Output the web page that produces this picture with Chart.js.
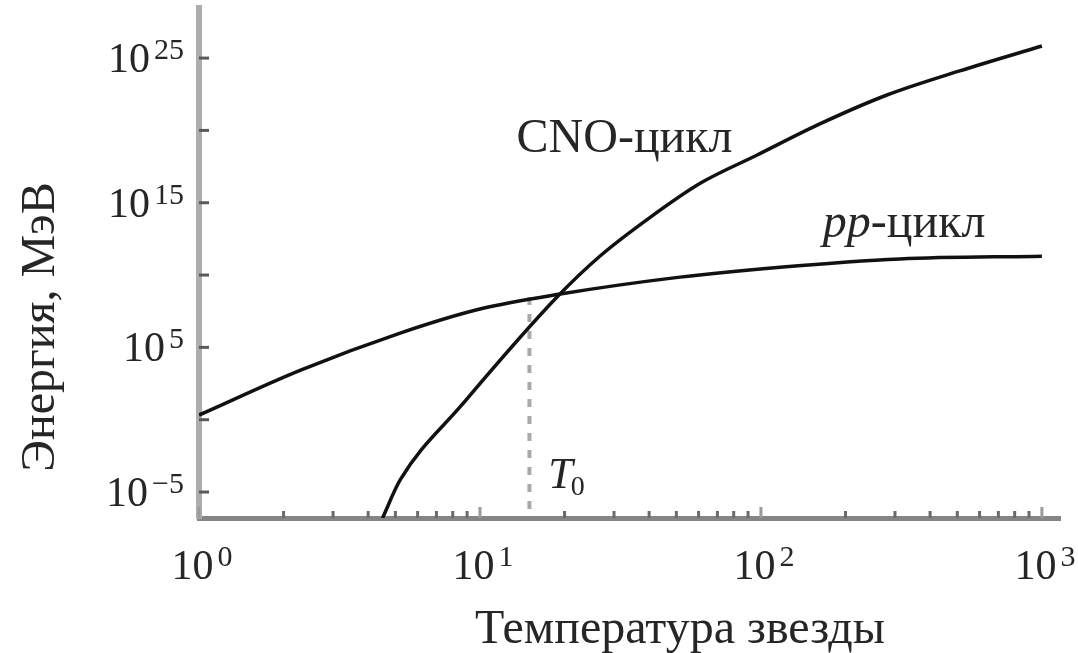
<!DOCTYPE html>
<html lang="ru">
<head>
  <meta charset="UTF-8" />
  <title>pp- и CNO-цикл</title>
  <script src="https://cdn.jsdelivr.net/npm/chart.js"></script>
  <style>
    html, body {
      margin: 0;
      padding: 0;
      background: #fff;
    }
    #wrap {
      width: 1078px;
      height: 653px;
    }
  </style>
</head>
<body>
  <div id="wrap"><canvas id="chart" width="1078" height="653"></canvas></div>

  <script>
    // температура звезды (в млн K) и энергия, МэВ
    const ppT  = [1, 2.3, 5.2, 10, 19.3, 51.5, 117, 312, 1000];
    const ppE  = [2.1, 2.7e3, 9.8e5, 4.5e7, 4.9e8, 7.2e9, 3.5e10, 1.3e11, 2e11];
    const cnoT = [4.5, 5.2, 8.6, 18.8, 26.7, 40, 61, 97, 162, 281, 510, 1000];
    const cnoE = [1.6e-7, 6.8e-5, 10, 3e8, 2e11, 8.7e13, 2.3e16, 2e18, 2.8e20, 2.8e22, 1.3e24, 6.8e25];

    // T0 — температура, при которой циклы сравниваются
    const t0 = 15;
    const t0Top = 3e8;

    const xRange = [1, 1160];
    const yRange = [1.6e-7, 2.9e28];

    const xMajor = [1, 10, 100, 1000];
    const xMajorExp = [0, 1, 2, 3];
    const xMinor = [2, 3, 4, 5, 6, 7, 8, 9, 20, 30, 40, 50, 60, 70, 80, 90,
                    200, 300, 400, 500, 600, 700, 800, 900];
    const yTicks = [1e-5, 1, 1e5, 1e10, 1e15, 1e20, 1e25];
    const yLabelVals = [1e-5, 1e5, 1e15, 1e25];
    const yLabelExp = [-5, 5, 15, 25];

    const SERIF = "'Liberation Serif', 'Times New Roman', serif";
    const INK = '#262626';

    function pts(xs, ys) {
      return xs.map((x, i) => ({ x: x, y: ys[i] }));
    }

    // "10" со степенью; cy — середина цифр основания
    function drawPower(ctx, exp, x, cy, align) {
      const sup = String(exp).replace('-', '\u2212');
      ctx.font = '42px ' + SERIF;
      const bw = ctx.measureText('10').width;
      ctx.font = '30px ' + SERIF;
      const sw = ctx.measureText(sup).width;
      const gap = 4;
      const total = bw + gap + sw;
      const left = align === 'right' ? x - total : x - total / 2;
      ctx.textAlign = 'left';
      ctx.textBaseline = 'alphabetic';
      ctx.font = '42px ' + SERIF;
      ctx.fillText('10', left, cy + 14);
      ctx.font = '30px ' + SERIF;
      ctx.fillText(sup, left + bw + gap, cy + 1);
    }

    const labelsPlugin = {
      id: 'labels',
      afterDraw(chart) {
        const ctx = chart.ctx;
        const xs = chart.scales.x;
        const ys = chart.scales.y;
        const area = chart.chartArea;
        ctx.save();

        // засечки внутрь графика
        ctx.strokeStyle = '#6a6a6a';
        ctx.lineWidth = 3;
        xMinor.forEach(v => {
          const px = xs.getPixelForValue(v);
          ctx.beginPath();
          ctx.moveTo(px, area.bottom);
          ctx.lineTo(px, area.bottom - 7);
          ctx.stroke();
        });
        ctx.strokeStyle = '#9a9a9a';
        xMajor.forEach(v => {
          const px = xs.getPixelForValue(v);
          ctx.beginPath();
          ctx.moveTo(px, area.bottom);
          ctx.lineTo(px, area.bottom - 11);
          ctx.stroke();
        });
        ctx.strokeStyle = '#5a5a5a';
        yTicks.forEach(v => {
          const py = ys.getPixelForValue(v);
          ctx.beginPath();
          ctx.moveTo(area.left, py);
          ctx.lineTo(area.left + 10, py);
          ctx.stroke();
        });

        // подписи делений
        ctx.fillStyle = INK;
        xMajor.forEach((v, i) => {
          drawPower(ctx, xMajorExp[i], xs.getPixelForValue(v) + 3, 565, 'center');
        });
        yLabelVals.forEach((v, i) => {
          drawPower(ctx, yLabelExp[i], area.left - 15, ys.getPixelForValue(v), 'right');
        });

        // названия осей
        ctx.font = '48px ' + SERIF;
        ctx.textAlign = 'center';
        ctx.textBaseline = 'alphabetic';
        ctx.fillText('Температура звезды', 680, 643);

        ctx.save();
        ctx.translate(54, 327);
        ctx.rotate(-Math.PI / 2);
        ctx.fillText('Энергия, МэВ', 0, 0);
        ctx.restore();

        // подписи кривых
        ctx.textAlign = 'left';
        ctx.font = '48px ' + SERIF;
        ctx.fillText('CNO-цикл', xs.getPixelForValue(13.5), ys.getPixelForValue(3e18));

        let px = xs.getPixelForValue(166);
        const py = ys.getPixelForValue(4.3e12);
        ctx.font = 'italic 48px ' + SERIF;
        ctx.fillText('pp', px, py);
        px += ctx.measureText('pp').width;
        ctx.font = '48px ' + SERIF;
        ctx.fillText('-цикл', px, py);

        let tx = xs.getPixelForValue(17.5);
        const ty = ys.getPixelForValue(1.9e-5);
        ctx.font = 'italic 44px ' + SERIF;
        ctx.fillText('T', tx, ty);
        tx += ctx.measureText('T').width;
        ctx.font = '28px ' + SERIF;
        ctx.fillText('0', tx - 2, ty + 7);

        ctx.restore();
      }
    };

    new Chart(document.getElementById('chart'), {
      type: 'line',
      data: {
        datasets: [
          {
            label: 'CNO-цикл',
            data: pts(cnoT, cnoE),
            borderColor: '#111',
            borderWidth: 3.5,
            pointRadius: 0,
            cubicInterpolationMode: 'monotone'
          },
          {
            label: 'pp-цикл',
            data: pts(ppT, ppE),
            borderColor: '#111',
            borderWidth: 3.5,
            pointRadius: 0,
            cubicInterpolationMode: 'monotone'
          },
          {
            label: 'T0',
            data: pts([t0, t0], [t0Top, yRange[0]]),
            borderColor: '#a9a9a9',
            borderWidth: 4,
            borderDash: [8, 9],
            pointRadius: 0
          }
        ]
      },
      options: {
        responsive: false,
        animation: false,
        devicePixelRatio: 1,
        layout: {
          padding: { left: 199, right: 18, top: 8, bottom: 135 }
        },
        plugins: {
          legend: { display: false },
          tooltip: { enabled: false },
          title: { display: false }
        },
        scales: {
          x: {
            type: 'logarithmic',
            min: xRange[0],
            max: xRange[1],
            grid: { display: false, drawTicks: false },
            border: { display: true, color: '#858585', width: 5 },
            ticks: { display: false }
          },
          y: {
            type: 'logarithmic',
            min: yRange[0],
            max: yRange[1],
            grid: { display: false, drawTicks: false },
            border: { display: true, color: '#adadad', width: 6 },
            ticks: { display: false }
          }
        }
      },
      plugins: [labelsPlugin]
    });
  </script>
</body>
</html>
